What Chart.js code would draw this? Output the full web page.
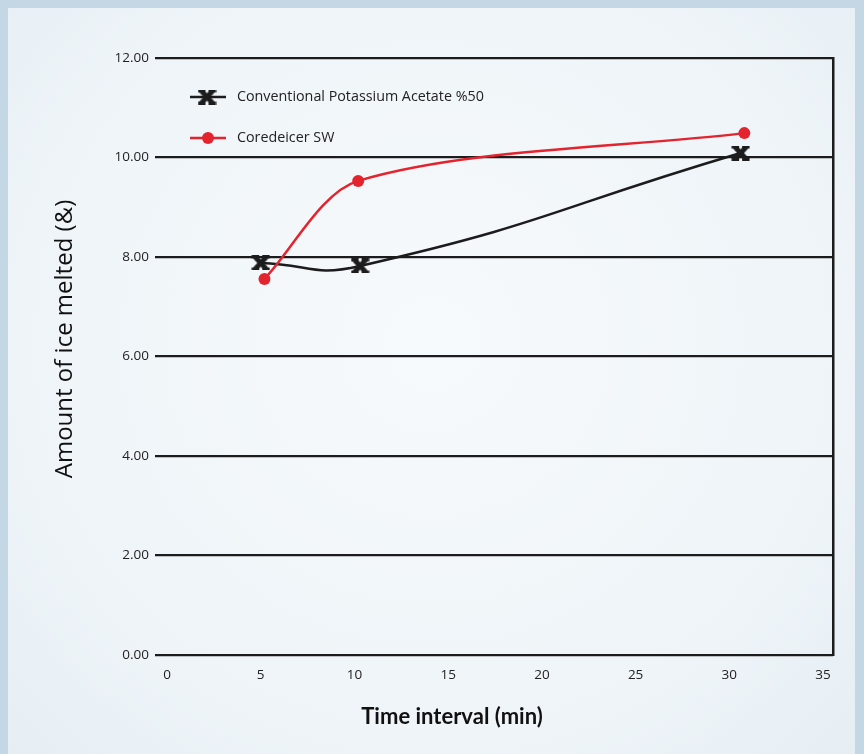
<!DOCTYPE html>
<html>
<head>
<meta charset="utf-8">
<script src="https://cdn.jsdelivr.net/npm/chart.js@4"></script>
<style>
  html, body { margin: 0; padding: 0; }
  body { width: 864px; height: 754px; background: #c3d7e5; position: relative; overflow: hidden; }
  #panel { position: absolute; left: 8px; top: 8px; width: 847px; height: 746px;
    background: radial-gradient(ellipse at 50% 45%, #f7fafc 0%, #eef4f8 70%, #e6eef4 100%); }
  #wrap { position: absolute; left: 0; top: 0; width: 864px; height: 754px; }
</style>
</head>
<body>
<div id="panel"></div>
<div id="wrap"><canvas id="c" width="864" height="754"></canvas></div>
<script>
// ---- data ----
const seriesNames = ["Conventional Potassium Acetate %50", "Coredeicer SW"];
const potassiumX = [5.0, 10.3, 30.6];
const potassiumY = [7.88, 7.82, 10.09];
const coredeicerX = [5.2, 10.2, 30.8];
const coredeicerY = [7.56, 9.53, 10.49];
const xTicks = [0, 5, 10, 15, 20, 25, 30, 35];
const yTicks = [0, 2, 4, 6, 8, 10, 12];
const xTitle = "Time interval (min)";
const yTitle = "Amount of ice melted (&)";

const BLACK = '#1c1c1c';
const RED = '#e3232d';

function makeXMarker() {
  const c = document.createElement('canvas');
  c.width = 19; c.height = 15;
  const g = c.getContext('2d');
  g.strokeStyle = BLACK; g.fillStyle = BLACK;
  g.lineWidth = 5;
  g.beginPath(); g.moveTo(4, 1.5); g.lineTo(15, 13.5); g.stroke();
  g.beginPath(); g.moveTo(15, 1.5); g.lineTo(4, 13.5); g.stroke();
  g.fillRect(0.5, 0, 7.5, 3); g.fillRect(11, 0, 7.5, 3);
  g.fillRect(0.5, 12, 7.5, 3); g.fillRect(11, 12, 7.5, 3);
  return c;
}
const xMarker = makeXMarker();

const toPts = (xs, ys) => xs.map((x, i) => ({ x: x, y: ys[i] }));

const overlayPlugin = {
  id: 'overlay',
  afterDraw(chart) {
    const ctx = chart.ctx;
    ctx.save();
    // legend inside plot
    const items = [
      { y: 97, color: BLACK, marker: 'x', text: seriesNames[0] },
      { y: 138, color: RED, marker: 'dot', text: seriesNames[1] }
    ];
    items.forEach(it => {
      ctx.strokeStyle = it.color; ctx.lineWidth = 2.5;
      ctx.beginPath(); ctx.moveTo(190, it.y); ctx.lineTo(226, it.y); ctx.stroke();
      if (it.marker === 'x') {
        ctx.drawImage(xMarker, 207 - 9.5, it.y - 7.5);
      } else {
        ctx.fillStyle = RED;
        ctx.beginPath(); ctx.arc(208, it.y, 6, 0, Math.PI * 2); ctx.fill();
      }
      ctx.fillStyle = '#222';
      ctx.font = '14.3px "Open Sans"';
      ctx.textBaseline = 'middle';
      ctx.textAlign = 'left';
      ctx.fillText(it.text, 237, it.y);
    });
    // axis titles
    ctx.fillStyle = '#111';
    ctx.textAlign = 'center';
    ctx.textBaseline = 'middle';
    ctx.font = 'bold 22px Lato';
    ctx.fillText(xTitle, 452, 717);
    ctx.translate(65, 339);
    ctx.rotate(-Math.PI / 2);
    ctx.font = '24px "Open Sans"';
    ctx.fillText(yTitle, 0, 0);
    ctx.restore();
  }
};

new Chart(document.getElementById('c'), {
  type: 'scatter',
  data: {
    datasets: [
      {
        label: seriesNames[0],
        data: toPts(potassiumX, potassiumY),
        showLine: true,
        borderColor: BLACK,
        borderWidth: 2.5,
        tension: 0.5,
        pointStyle: xMarker,
        pointRadius: 8,
        pointHoverRadius: 8,
        order: 1
      },
      {
        label: seriesNames[1],
        data: toPts(coredeicerX, coredeicerY),
        showLine: true,
        borderColor: RED,
        borderWidth: 2.5,
        backgroundColor: RED,
        pointBackgroundColor: RED,
        pointBorderWidth: 0,
        tension: 0.3,
        pointRadius: 6,
        pointHoverRadius: 6,
        order: 0
      }
    ]
  },
  options: {
    responsive: false,
    animation: false,
    devicePixelRatio: 1,
    layout: { padding: { left: 45, right: 31, top: 58, bottom: 20 } },
    plugins: { legend: { display: false }, tooltip: { enabled: false } },
    scales: {
      x: {
        type: 'linear',
        min: -0.64,
        max: 35.53,
        afterBuildTicks: s => { s.ticks = xTicks.map(v => ({ value: v })); },
        afterFit: s => { s.height = 79; },
        grid: { display: false, drawTicks: false },
        border: { display: false },
        ticks: { color: '#222', font: { family: 'Open Sans', size: 13.5 }, padding: 12, maxRotation: 0, autoSkip: false },
        title: { display: false }
      },
      y: {
        min: 0,
        max: 12,
        afterBuildTicks: s => { s.ticks = yTicks.map(v => ({ value: v })); },
        afterFit: s => { s.width = 155 - 45; },
        grid: { color: BLACK, lineWidth: 2.3, drawTicks: false },
        border: { display: false },
        ticks: { color: '#222', font: { family: 'Open Sans', size: 13.5 }, padding: 6, callback: v => Number(v).toFixed(2) },
        title: { display: false }
      },
      yR: {
        position: 'right',
        min: 0,
        max: 12,
        afterFit: s => { s.width = 0; },
        grid: { display: false, drawTicks: false },
        ticks: { display: false },
        border: { display: true, color: BLACK, width: 2.5 }
      }
    }
  },
  plugins: [overlayPlugin]
});
</script>
</body>
</html>
